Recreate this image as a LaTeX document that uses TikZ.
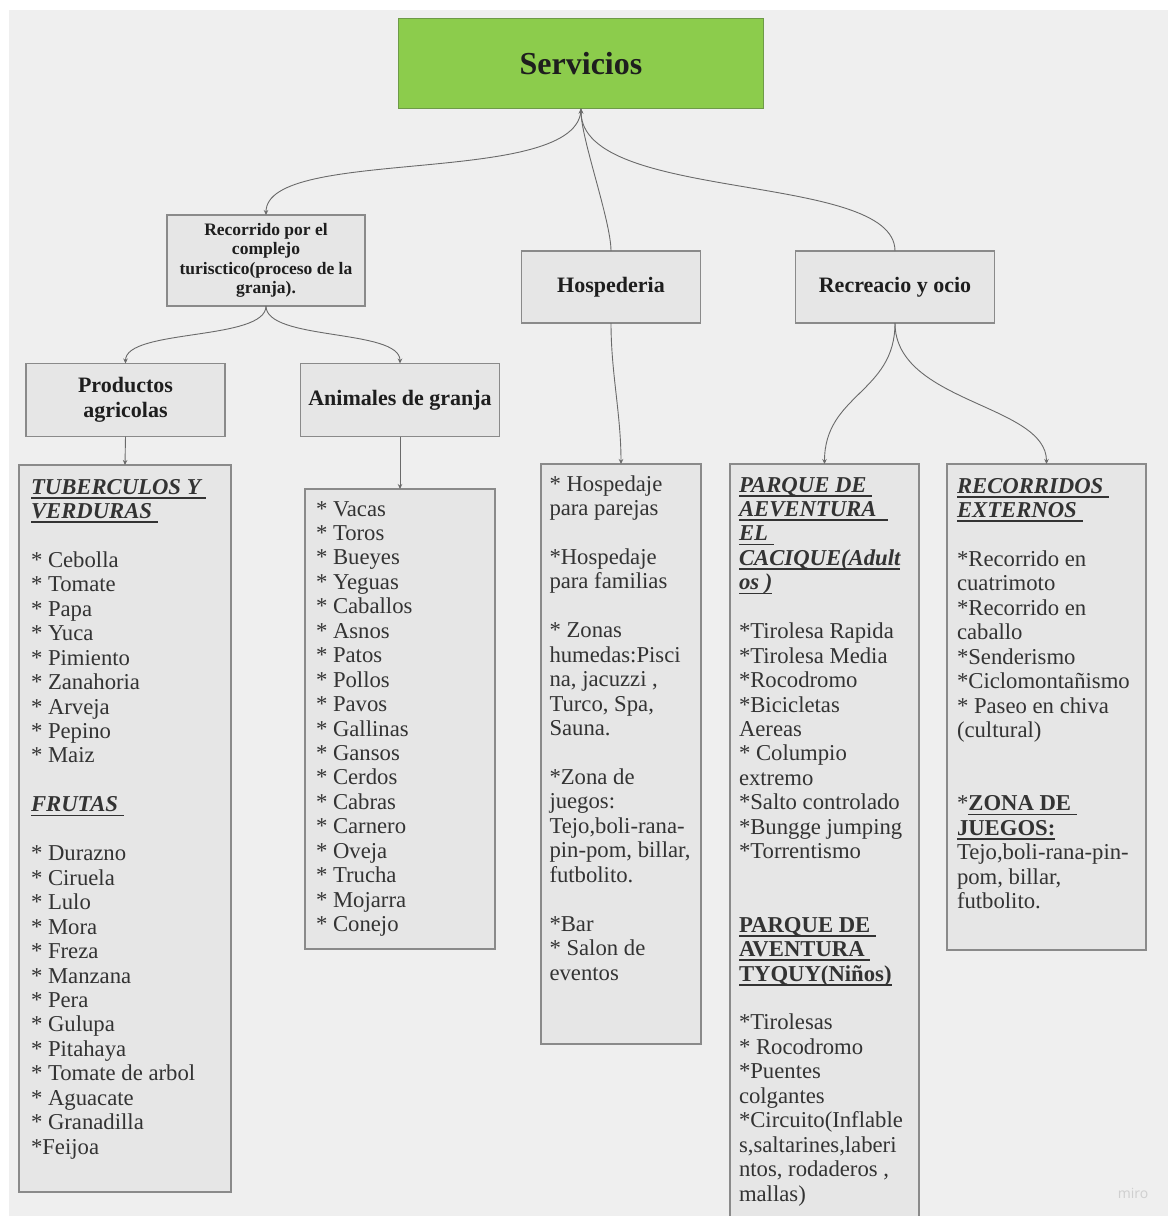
\documentclass[tikz,border=0pt]{standalone}
\usepackage{fontspec}
\setmainfont{Liberation Serif}
\newfontfamily\wmfont{Open Sans}
\usetikzlibrary{arrows.meta}
\definecolor{bgc}{HTML}{EFEFEF}
\definecolor{boxfill}{HTML}{E6E6E6}
\definecolor{boxline}{HTML}{8A8A8A}
\definecolor{srvgreen}{HTML}{8CCC4C}
\definecolor{srvline}{HTML}{6E9A48}
\definecolor{itemc}{HTML}{333333}
\definecolor{hdrc}{HTML}{1E1E1E}
\definecolor{connc}{HTML}{6A6A6A}
\definecolor{wmc}{HTML}{CFCFCF}
\newlength\lsk
\setlength\lsk{24.45pt}
\newcommand\listfont{\fontsize{22.7}{24.45}\selectfont}
\newcommand\hdrfont{\fontsize{22}{25}\selectfont\bfseries}
\newcommand\bfit{\bfseries\itshape}
\newcommand\hu[1]{\leavevmode\setbox0\hbox{#1}\rlap{\rule[-4.5pt]{\wd0}{1.6pt}}\box0}
\begin{document}
\begin{tikzpicture}[x=1pt,y=-1pt,
  every node/.style={inner sep=0pt, outer sep=0pt},
  hbox/.style={draw=boxline, fill=boxfill, line width=1.1pt, anchor=north west, text=hdrc, font=\hdrfont, align=center},
  lbox/.style={draw=boxline, fill=boxfill, line width=1.1pt, anchor=north west},
  ltext/.style={anchor=base west, text=itemc, font=\listfont},
  conn/.style={draw=connc, line width=0.9pt},
  tip/.style={-{Stealth[length=5pt,width=4.5pt]}},
  rtip/.style={{Stealth[length=5pt,width=4.5pt]}-}]
\useasboundingbox (0,0) rectangle (1168,1216);
\fill[white] (0,0) rectangle (1168,1216);
\fill[bgc] (9,10) rectangle (1168,1216);

% header boxes
\node[hbox, draw=srvline, fill=srvgreen, minimum width=365pt, minimum height=90pt, font=\fontsize{32}{36}\selectfont\bfseries] (srv) at (398.5,18.5) {Servicios};
\node[hbox, minimum width=198pt, minimum height=91pt, font=\fontsize{17.5}{19.3}\selectfont\bfseries] (rec) at (167,215) {Recorrido por el\\complejo\\turisctico(proceso de la\\granja).};
\node[hbox, minimum width=179pt, minimum height=72pt] (hos) at (521.5,251) {Hospederia};
\node[hbox, minimum width=199pt, minimum height=72pt] (rco) at (795.5,251) {Recreacio y ocio};
\node[hbox, minimum width=199pt, minimum height=73pt] (pro) at (26,363.5) {Productos\\agricolas};
\node[hbox, minimum width=199pt, minimum height=73pt] (ani) at (300.5,363.5) {Animales de granja};

% list boxes
\node[lbox, minimum width=212pt, minimum height=727pt] (tub) at (19,465) {};
\node[lbox, minimum width=190pt, minimum height=460pt] (anl) at (305,489) {};
\node[lbox, minimum width=160pt, minimum height=580pt] (hosl) at (541,464) {};
\node[lbox, minimum width=189pt, minimum height=760pt] (parl) at (730,464) {};
\node[lbox, minimum width=199pt, minimum height=486pt] (recl) at (947,464) {};

% list texts
\node[ltext] (tubt) at (31,494) {\parbox[t]{195pt}{\listfont
\hu{\bfit TUBERCULOS Y\ }\\
\hu{\bfit VERDURAS\ }\\[\lsk]
{*} Cebolla\\ {*} Tomate\\ {*} Papa\\ {*} Yuca\\ {*} Pimiento\\ {*} Zanahoria\\ {*} Arveja\\ {*} Pepino\\ {*} Maiz\\[\lsk]
\hu{\bfit FRUTAS\ }\\[\lsk]
{*} Durazno\\ {*} Ciruela\\ {*} Lulo\\ {*} Mora\\ {*} Freza\\ {*} Manzana\\ {*} Pera\\ {*} Gulupa\\ {*} Pitahaya\\ {*} Tomate de arbol\\ {*} Aguacate\\ {*} Granadilla\\ {*}Feijoa}};

\node[ltext] (anlt) at (316,516) {\parbox[t]{175pt}{\listfont
{*} Vacas\\ {*} Toros\\ {*} Bueyes\\ {*} Yeguas\\ {*} Caballos\\ {*} Asnos\\ {*} Patos\\ {*} Pollos\\ {*} Pavos\\ {*} Gallinas\\ {*} Gansos\\ {*} Cerdos\\ {*} Cabras\\ {*} Carnero\\ {*} Oveja\\ {*} Trucha\\ {*} Mojarra\\ {*} Conejo}};

\node[ltext] (hoslt) at (549.5,491) {\parbox[t]{160pt}{\listfont
{*} Hospedaje\\ para parejas\\[\lsk]
{*}Hospedaje\\ para familias\\[\lsk]
{*} Zonas\\ humedas:Pisci\\ na, jacuzzi ,\\ Turco, Spa,\\ Sauna.\\[\lsk]
{*}Zona de\\ juegos:\\ Tejo,boli-rana-\\ pin-pom, billar,\\ futbolito.\\[\lsk]
{*}Bar\\ {*} Salon de\\ eventos}};

\node[ltext] (parlt) at (739,492) {\parbox[t]{190pt}{\listfont
\hu{\bfit PARQUE DE\ }\\ \hu{\bfit AEVENTURA\ \ }\\ \hu{\bfit EL\ }\\ \hu{\bfit CACIQUE(Adult}\\ \hu{\bfit os )}\\[\lsk]
{*}Tirolesa Rapida\\ {*}Tirolesa Media\\ {*}Rocodromo\\ {*}Bicicletas\\ Aereas\\ {*} Columpio\\ extremo\\ {*}Salto controlado\\ {*}Bungge jumping\\ {*}Torrentismo\\[2\lsk]
\hu{\bfseries PARQUE DE\ }\\ \hu{\bfseries AVENTURA\ }\\ \hu{\bfseries TYQUY(Niños)}\\[\lsk]
{*}Tirolesas\\ {*} Rocodromo\\ {*}Puentes\\ colgantes\\ {*}Circuito(Inflable\\ s,saltarines,laberi\\ ntos, rodaderos ,\\ mallas)}};

\node[ltext] (reclt) at (957,493) {\parbox[t]{190pt}{\listfont
\hu{\bfit RECORRIDOS\ }\\ \hu{\bfit EXTERNOS\ }\\[\lsk]
{*}Recorrido en\\ cuatrimoto\\ {*}Recorrido en\\ caballo\\ {*}Senderismo\\ {*}Ciclomontañismo\\ {*} Paseo en chiva\\ (cultural)\\[2\lsk]
{*}\hu{\bfseries ZONA DE\ }\\ \hu{\bfseries JUEGOS:}\\ Tejo,boli-rana-pin-\\ pom, billar,\\ futbolito.}};

% connectors
\draw[conn, tip] (srv.south) .. controls +(0,80) and +(0,-70) .. (rec.north);
\draw[conn, rtip] (srv.south) .. controls +(0,30) and +(0,-30) .. (hos.north);
\draw[conn, rtip] (srv.south) .. controls +(0,95) and +(0,-80) .. (rco.north);
\draw[conn, tip] (rec.south) .. controls +(0,35) and +(0,-35) .. (pro.north);
\draw[conn, tip] (rec.south) .. controls +(0,35) and +(0,-35) .. (ani.north);
\draw[conn, tip] (pro.south) -- (tub.north);
\draw[conn, tip] (ani.south) -- (anl.north);
\draw[conn, tip] (hos.south) .. controls +(0,50) and +(0,-50) .. (hosl.north);
\draw[conn, tip] (rco.south) .. controls +(0,70) and +(0,-70) .. (parl.north);
\draw[conn, tip] (rco.south) .. controls +(0,80) and +(0,-60) .. (recl.north);

\node[text=wmc, font=\wmfont\fontsize{14}{14}\selectfont] (miro) at (1133,1193) {miro};
\end{tikzpicture}
\end{document}
